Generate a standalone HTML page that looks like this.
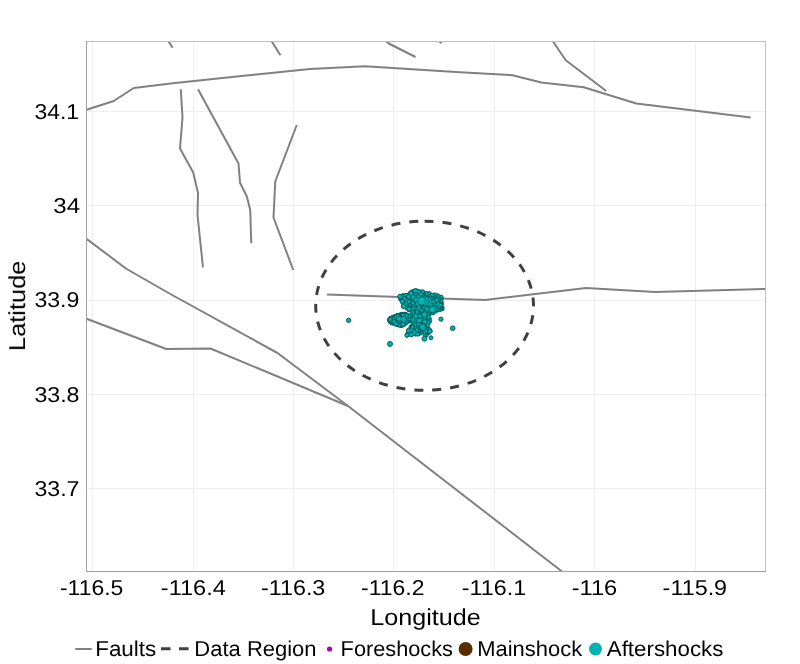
<!DOCTYPE html>
<html><head><meta charset="utf-8"><title>Aftershock map</title>
<style>
html,body{margin:0;padding:0;background:#ffffff;}
body{width:800px;height:664px;overflow:hidden;font-family:"Liberation Sans",sans-serif;}
svg{display:block;}
</style></head><body>
<svg width="800" height="664" viewBox="0 0 800 664">
<rect x="0" y="0" width="800" height="664" fill="#ffffff"/>
<g stroke="#efefef" stroke-width="1" shape-rendering="crispEdges">
<line x1="92.5" y1="41.5" x2="92.5" y2="571.5"/>
<line x1="193.5" y1="41.5" x2="193.5" y2="571.5"/>
<line x1="293.5" y1="41.5" x2="293.5" y2="571.5"/>
<line x1="393.5" y1="41.5" x2="393.5" y2="571.5"/>
<line x1="494.5" y1="41.5" x2="494.5" y2="571.5"/>
<line x1="594.5" y1="41.5" x2="594.5" y2="571.5"/>
<line x1="695.5" y1="41.5" x2="695.5" y2="571.5"/>
<line x1="86.5" y1="111.5" x2="765.5" y2="111.5"/>
<line x1="86.5" y1="205.5" x2="765.5" y2="205.5"/>
<line x1="86.5" y1="300.5" x2="765.5" y2="300.5"/>
<line x1="86.5" y1="394.5" x2="765.5" y2="394.5"/>
<line x1="86.5" y1="488.5" x2="765.5" y2="488.5"/>
</g>
<clipPath id="pc"><rect x="86.5" y="41.5" width="679.0" height="530.0"/></clipPath>
<g clip-path="url(#pc)">
<g fill="none" stroke="#808080" stroke-width="2" stroke-linejoin="round" stroke-linecap="butt">
<polyline points="86.50,109.80 113.75,101.00 133.75,88.00 175.00,83.00 310.00,69.00 365.00,66.25 460.00,72.25 512.50,75.25 541.25,82.50 583.75,87.25 636.25,103.50 750.75,117.50"/>
<polyline points="168.60,41.50 172.60,47.70"/>
<polyline points="271.75,41.50 280.50,55.25"/>
<polyline points="386.25,41.50 388.75,43.50 415.50,57.00"/>
<polyline points="439.50,41.50 441.50,43.25"/>
<polyline points="553.00,41.50 565.75,60.25 606.25,91.00"/>
<polyline points="180.75,89.25 182.50,117.25 180.00,148.50 193.25,172.50 198.00,193.00 197.50,215.00 203.00,267.50"/>
<polyline points="198.00,89.25 238.50,163.60 240.00,182.70 246.75,196.25 250.25,210.00 251.25,243.25"/>
<polyline points="296.75,125.00 275.25,181.50 273.50,217.50 293.25,270.00"/>
<polyline points="86.50,238.75 126.25,268.75 171.25,294.50 277.50,353.00 348.00,406.00 562.00,571.50"/>
<polyline points="86.50,318.75 166.25,349.00 210.50,348.50 348.00,406.00"/>
<polyline points="327.00,294.50 484.90,300.10 586.00,288.00 655.00,292.00 765.50,289.00"/>
</g>
<path d="M424.6,221.2 A108.9,84.55 0 0 1 424.6,390.3 A108.9,84.55 0 0 1 424.6,221.2" fill="none" stroke="#404040" stroke-width="3" stroke-dasharray="9 9"/>
<g fill="#00b2b2" stroke="#006060" stroke-width="1">
<circle cx="409.82" cy="317.52" r="1.68"/>
<circle cx="419.75" cy="329.13" r="1.60"/>
<circle cx="435.11" cy="299.79" r="1.60"/>
<circle cx="428.80" cy="300.65" r="2.60"/>
<circle cx="442.51" cy="307.47" r="1.69"/>
<circle cx="427.88" cy="300.89" r="2.00"/>
<circle cx="399.11" cy="324.20" r="1.80"/>
<circle cx="389.97" cy="320.88" r="1.74"/>
<circle cx="403.64" cy="303.67" r="2.00"/>
<circle cx="441.08" cy="302.94" r="2.00"/>
<circle cx="430.32" cy="330.89" r="1.57"/>
<circle cx="405.61" cy="315.58" r="2.20"/>
<circle cx="421.55" cy="297.44" r="2.00"/>
<circle cx="393.14" cy="322.26" r="1.90"/>
<circle cx="414.42" cy="331.51" r="1.80"/>
<circle cx="400.05" cy="299.53" r="1.32"/>
<circle cx="421.39" cy="317.90" r="2.60"/>
<circle cx="391.06" cy="322.73" r="1.53"/>
<circle cx="403.62" cy="314.78" r="1.60"/>
<circle cx="424.90" cy="295.74" r="2.60"/>
<circle cx="403.19" cy="319.27" r="2.00"/>
<circle cx="401.83" cy="322.69" r="1.60"/>
<circle cx="420.54" cy="314.03" r="1.44"/>
<circle cx="400.72" cy="323.25" r="2.00"/>
<circle cx="415.44" cy="313.94" r="1.24"/>
<circle cx="389.32" cy="319.38" r="1.49"/>
<circle cx="417.61" cy="314.23" r="1.32"/>
<circle cx="413.90" cy="322.99" r="2.00"/>
<circle cx="419.90" cy="316.61" r="2.00"/>
<circle cx="421.60" cy="296.07" r="2.00"/>
<circle cx="406.25" cy="314.20" r="1.66"/>
<circle cx="428.28" cy="311.41" r="2.20"/>
<circle cx="404.10" cy="314.52" r="1.60"/>
<circle cx="412.57" cy="321.32" r="1.93"/>
<circle cx="420.42" cy="320.69" r="1.60"/>
<circle cx="407.43" cy="335.20" r="1.60"/>
<circle cx="405.66" cy="316.74" r="1.80"/>
<circle cx="420.78" cy="313.59" r="1.86"/>
<circle cx="433.10" cy="311.12" r="1.60"/>
<circle cx="423.52" cy="311.91" r="2.00"/>
<circle cx="397.94" cy="319.65" r="2.00"/>
<circle cx="425.46" cy="306.84" r="2.00"/>
<circle cx="410.72" cy="305.51" r="2.00"/>
<circle cx="438.71" cy="302.44" r="1.60"/>
<circle cx="430.14" cy="307.92" r="1.80"/>
<circle cx="429.22" cy="293.66" r="1.73"/>
<circle cx="411.06" cy="294.35" r="2.00"/>
<circle cx="429.94" cy="313.49" r="1.50"/>
<circle cx="402.54" cy="295.35" r="1.32"/>
<circle cx="410.87" cy="326.69" r="1.52"/>
<circle cx="426.83" cy="321.47" r="2.40"/>
<circle cx="411.92" cy="310.69" r="1.63"/>
<circle cx="398.66" cy="320.31" r="2.00"/>
<circle cx="403.73" cy="295.58" r="1.78"/>
<circle cx="420.12" cy="329.71" r="2.20"/>
<circle cx="390.14" cy="319.76" r="2.20"/>
<circle cx="396.08" cy="321.76" r="1.90"/>
<circle cx="418.46" cy="317.22" r="1.80"/>
<circle cx="423.45" cy="304.14" r="1.60"/>
<circle cx="405.03" cy="306.82" r="1.79"/>
<circle cx="416.10" cy="301.53" r="1.60"/>
<circle cx="397.84" cy="322.66" r="1.60"/>
<circle cx="424.56" cy="297.33" r="1.60"/>
<circle cx="401.59" cy="321.21" r="1.80"/>
<circle cx="424.26" cy="296.44" r="1.60"/>
<circle cx="406.50" cy="301.86" r="2.60"/>
<circle cx="427.96" cy="332.59" r="2.20"/>
<circle cx="410.89" cy="327.65" r="2.05"/>
<circle cx="424.34" cy="303.08" r="1.60"/>
<circle cx="421.78" cy="305.65" r="1.80"/>
<circle cx="427.53" cy="319.06" r="1.60"/>
<circle cx="418.46" cy="301.30" r="2.60"/>
<circle cx="392.91" cy="316.69" r="1.31"/>
<circle cx="406.20" cy="301.02" r="2.20"/>
<circle cx="417.94" cy="329.54" r="2.20"/>
<circle cx="411.93" cy="326.72" r="1.60"/>
<circle cx="409.64" cy="320.23" r="1.75"/>
<circle cx="419.61" cy="316.18" r="1.60"/>
<circle cx="403.73" cy="316.37" r="2.40"/>
<circle cx="437.42" cy="295.72" r="1.60"/>
<circle cx="412.19" cy="295.30" r="2.40"/>
<circle cx="412.30" cy="316.94" r="2.44"/>
<circle cx="426.14" cy="306.17" r="1.80"/>
<circle cx="435.60" cy="305.20" r="2.00"/>
<circle cx="399.92" cy="318.46" r="2.20"/>
<circle cx="397.08" cy="320.45" r="1.40"/>
<circle cx="418.54" cy="327.93" r="1.60"/>
<circle cx="424.53" cy="325.52" r="1.60"/>
<circle cx="439.20" cy="302.31" r="2.00"/>
<circle cx="423.23" cy="295.84" r="2.00"/>
<circle cx="427.48" cy="300.75" r="2.00"/>
<circle cx="418.69" cy="305.65" r="2.20"/>
<circle cx="409.44" cy="320.95" r="1.40"/>
<circle cx="414.23" cy="299.13" r="1.80"/>
<circle cx="426.74" cy="297.79" r="2.00"/>
<circle cx="427.58" cy="300.64" r="2.40"/>
<circle cx="415.36" cy="319.56" r="2.40"/>
<circle cx="426.11" cy="313.08" r="1.60"/>
<circle cx="414.01" cy="329.06" r="2.00"/>
<circle cx="428.37" cy="329.06" r="2.00"/>
<circle cx="408.45" cy="316.97" r="1.60"/>
<circle cx="414.31" cy="300.92" r="1.80"/>
<circle cx="426.17" cy="321.74" r="2.00"/>
<circle cx="403.18" cy="314.62" r="2.00"/>
<circle cx="410.43" cy="294.74" r="2.55"/>
<circle cx="400.88" cy="317.02" r="1.80"/>
<circle cx="397.56" cy="315.52" r="1.60"/>
<circle cx="433.02" cy="313.32" r="1.42"/>
<circle cx="422.69" cy="323.53" r="2.60"/>
<circle cx="411.16" cy="310.54" r="1.55"/>
<circle cx="419.66" cy="319.29" r="1.60"/>
<circle cx="406.88" cy="307.28" r="1.80"/>
<circle cx="400.26" cy="318.05" r="2.00"/>
<circle cx="397.69" cy="319.59" r="1.40"/>
<circle cx="438.03" cy="307.62" r="2.00"/>
<circle cx="391.02" cy="318.27" r="1.90"/>
<circle cx="419.16" cy="294.80" r="2.20"/>
<circle cx="401.86" cy="314.57" r="1.86"/>
<circle cx="401.42" cy="315.63" r="1.60"/>
<circle cx="421.61" cy="325.10" r="2.00"/>
<circle cx="400.00" cy="316.61" r="1.80"/>
<circle cx="408.30" cy="316.67" r="1.60"/>
<circle cx="404.09" cy="321.94" r="1.60"/>
<circle cx="425.59" cy="320.87" r="1.80"/>
<circle cx="399.62" cy="316.47" r="2.00"/>
<circle cx="410.37" cy="292.49" r="1.52"/>
<circle cx="400.21" cy="321.57" r="2.40"/>
<circle cx="420.19" cy="291.72" r="1.60"/>
<circle cx="426.10" cy="313.18" r="1.40"/>
<circle cx="397.49" cy="315.38" r="1.58"/>
<circle cx="394.10" cy="320.19" r="1.80"/>
<circle cx="391.12" cy="320.32" r="1.40"/>
<circle cx="432.62" cy="311.80" r="2.60"/>
<circle cx="423.05" cy="326.45" r="2.20"/>
<circle cx="411.17" cy="309.03" r="2.20"/>
<circle cx="398.15" cy="317.33" r="1.40"/>
<circle cx="401.45" cy="295.49" r="1.24"/>
<circle cx="398.88" cy="324.85" r="1.96"/>
<circle cx="419.77" cy="309.68" r="1.60"/>
<circle cx="409.06" cy="321.54" r="1.25"/>
<circle cx="401.36" cy="298.31" r="1.60"/>
<circle cx="406.64" cy="314.56" r="1.33"/>
<circle cx="403.08" cy="321.05" r="1.60"/>
<circle cx="397.25" cy="322.70" r="1.60"/>
<circle cx="402.45" cy="315.64" r="2.00"/>
<circle cx="409.88" cy="320.29" r="1.53"/>
<circle cx="399.09" cy="324.53" r="1.73"/>
<circle cx="413.96" cy="295.22" r="2.40"/>
<circle cx="422.66" cy="313.29" r="1.47"/>
<circle cx="405.79" cy="316.78" r="2.00"/>
<circle cx="397.06" cy="319.52" r="2.20"/>
<circle cx="425.72" cy="318.89" r="2.00"/>
<circle cx="413.78" cy="299.25" r="2.20"/>
<circle cx="419.62" cy="302.15" r="2.20"/>
<circle cx="419.11" cy="296.05" r="2.60"/>
<circle cx="422.58" cy="309.33" r="1.80"/>
<circle cx="394.75" cy="316.18" r="1.52"/>
<circle cx="417.86" cy="326.85" r="2.20"/>
<circle cx="393.82" cy="320.59" r="1.40"/>
<circle cx="400.91" cy="321.96" r="1.60"/>
<circle cx="426.70" cy="295.17" r="2.00"/>
<circle cx="397.97" cy="321.85" r="2.40"/>
<circle cx="398.72" cy="318.19" r="2.00"/>
<circle cx="422.53" cy="305.98" r="2.20"/>
<circle cx="422.35" cy="300.11" r="1.60"/>
<circle cx="403.21" cy="320.33" r="1.60"/>
<circle cx="416.23" cy="306.12" r="1.60"/>
<circle cx="416.66" cy="315.50" r="2.26"/>
<circle cx="407.81" cy="334.37" r="2.00"/>
<circle cx="428.25" cy="317.93" r="2.00"/>
<circle cx="393.54" cy="321.81" r="1.40"/>
<circle cx="419.74" cy="332.05" r="2.60"/>
<circle cx="392.56" cy="317.41" r="1.25"/>
<circle cx="408.27" cy="295.43" r="2.20"/>
<circle cx="408.56" cy="298.98" r="2.40"/>
<circle cx="414.83" cy="311.83" r="1.60"/>
<circle cx="397.57" cy="319.73" r="1.60"/>
<circle cx="424.01" cy="324.51" r="1.60"/>
<circle cx="434.02" cy="303.22" r="2.20"/>
<circle cx="419.40" cy="317.94" r="2.40"/>
<circle cx="404.58" cy="306.14" r="1.54"/>
<circle cx="423.70" cy="311.23" r="1.60"/>
<circle cx="428.08" cy="311.96" r="2.00"/>
<circle cx="401.29" cy="319.79" r="2.20"/>
<circle cx="434.61" cy="299.81" r="2.20"/>
<circle cx="402.16" cy="318.76" r="1.90"/>
<circle cx="399.89" cy="318.00" r="1.80"/>
<circle cx="422.32" cy="322.73" r="1.60"/>
<circle cx="416.45" cy="307.45" r="2.20"/>
<circle cx="402.74" cy="325.41" r="1.40"/>
<circle cx="420.25" cy="321.29" r="1.60"/>
<circle cx="418.47" cy="301.78" r="1.80"/>
<circle cx="408.38" cy="315.34" r="1.40"/>
<circle cx="420.58" cy="311.79" r="2.00"/>
<circle cx="437.37" cy="305.26" r="2.20"/>
<circle cx="404.28" cy="315.68" r="2.00"/>
<circle cx="391.08" cy="318.00" r="1.48"/>
<circle cx="416.39" cy="322.73" r="2.00"/>
<circle cx="395.84" cy="320.09" r="1.40"/>
<circle cx="408.98" cy="317.77" r="1.80"/>
<circle cx="419.16" cy="327.88" r="1.60"/>
<circle cx="417.23" cy="332.48" r="1.60"/>
<circle cx="390.60" cy="319.93" r="1.90"/>
<circle cx="431.02" cy="300.56" r="1.80"/>
<circle cx="428.79" cy="307.29" r="2.60"/>
<circle cx="408.67" cy="319.99" r="1.90"/>
<circle cx="392.65" cy="321.56" r="1.60"/>
<circle cx="415.25" cy="316.73" r="2.20"/>
<circle cx="402.97" cy="318.59" r="1.80"/>
<circle cx="417.83" cy="299.23" r="2.40"/>
<circle cx="427.31" cy="324.44" r="2.00"/>
<circle cx="415.46" cy="307.21" r="2.20"/>
<circle cx="410.46" cy="306.53" r="2.00"/>
<circle cx="397.42" cy="323.88" r="1.80"/>
<circle cx="396.74" cy="322.79" r="2.60"/>
<circle cx="399.91" cy="318.74" r="2.20"/>
<circle cx="407.74" cy="300.59" r="2.00"/>
<circle cx="409.09" cy="296.96" r="2.00"/>
<circle cx="439.65" cy="305.96" r="1.80"/>
<circle cx="415.89" cy="301.91" r="2.00"/>
<circle cx="433.94" cy="307.91" r="2.60"/>
<circle cx="399.85" cy="320.31" r="1.80"/>
<circle cx="400.98" cy="298.97" r="2.00"/>
<circle cx="404.48" cy="321.00" r="1.60"/>
<circle cx="402.09" cy="318.37" r="1.80"/>
<circle cx="402.96" cy="318.60" r="1.40"/>
<circle cx="408.90" cy="303.61" r="2.00"/>
<circle cx="406.14" cy="295.76" r="2.00"/>
<circle cx="404.73" cy="317.57" r="2.00"/>
<circle cx="402.34" cy="319.67" r="2.40"/>
<circle cx="439.77" cy="304.26" r="2.40"/>
<circle cx="426.43" cy="329.68" r="1.80"/>
<circle cx="409.38" cy="319.24" r="2.00"/>
<circle cx="396.38" cy="316.12" r="1.65"/>
<circle cx="436.75" cy="297.65" r="2.00"/>
<circle cx="424.89" cy="307.06" r="2.60"/>
<circle cx="429.44" cy="293.59" r="1.65"/>
<circle cx="397.96" cy="325.00" r="1.57"/>
<circle cx="428.45" cy="303.95" r="1.80"/>
<circle cx="407.05" cy="317.62" r="1.80"/>
<circle cx="431.37" cy="311.80" r="1.60"/>
<circle cx="428.31" cy="306.17" r="2.00"/>
<circle cx="403.37" cy="300.97" r="2.40"/>
<circle cx="395.07" cy="322.37" r="1.40"/>
<circle cx="429.47" cy="330.12" r="2.00"/>
<circle cx="397.88" cy="325.03" r="1.52"/>
<circle cx="405.15" cy="323.00" r="2.25"/>
<circle cx="420.70" cy="308.04" r="2.00"/>
<circle cx="398.44" cy="320.41" r="2.00"/>
<circle cx="399.26" cy="316.04" r="1.90"/>
<circle cx="421.39" cy="301.71" r="2.60"/>
<circle cx="429.39" cy="304.83" r="2.00"/>
<circle cx="401.07" cy="296.97" r="1.60"/>
<circle cx="441.62" cy="302.63" r="1.43"/>
<circle cx="401.39" cy="322.00" r="2.20"/>
<circle cx="398.90" cy="314.91" r="1.51"/>
<circle cx="397.63" cy="325.21" r="1.28"/>
<circle cx="396.28" cy="315.70" r="1.52"/>
<circle cx="405.00" cy="318.79" r="1.90"/>
<circle cx="411.43" cy="310.57" r="1.80"/>
<circle cx="424.70" cy="308.92" r="1.60"/>
<circle cx="422.55" cy="298.32" r="2.00"/>
<circle cx="421.82" cy="298.29" r="2.20"/>
<circle cx="398.82" cy="319.71" r="2.00"/>
<circle cx="428.22" cy="302.74" r="1.60"/>
<circle cx="391.98" cy="317.35" r="1.58"/>
<circle cx="402.74" cy="318.31" r="2.00"/>
<circle cx="393.38" cy="320.30" r="1.40"/>
<circle cx="409.52" cy="318.36" r="1.38"/>
<circle cx="408.28" cy="316.08" r="1.80"/>
<circle cx="440.01" cy="305.07" r="1.80"/>
<circle cx="415.62" cy="308.94" r="1.60"/>
<circle cx="415.23" cy="322.52" r="2.00"/>
<circle cx="394.20" cy="321.45" r="1.90"/>
<circle cx="403.10" cy="325.38" r="1.27"/>
<circle cx="420.92" cy="326.04" r="2.00"/>
<circle cx="427.06" cy="294.34" r="2.00"/>
<circle cx="414.08" cy="300.66" r="1.80"/>
<circle cx="414.15" cy="305.42" r="2.20"/>
<circle cx="412.32" cy="308.78" r="1.80"/>
<circle cx="433.37" cy="301.40" r="2.00"/>
<circle cx="398.05" cy="317.93" r="2.60"/>
<circle cx="419.41" cy="303.19" r="2.20"/>
<circle cx="419.61" cy="297.65" r="2.20"/>
<circle cx="417.11" cy="322.52" r="2.00"/>
<circle cx="402.42" cy="314.61" r="1.80"/>
<circle cx="405.19" cy="323.20" r="1.60"/>
<circle cx="401.75" cy="316.19" r="2.40"/>
<circle cx="392.73" cy="318.02" r="2.20"/>
<circle cx="431.17" cy="299.73" r="2.00"/>
<circle cx="413.52" cy="317.18" r="1.80"/>
<circle cx="427.75" cy="295.19" r="2.00"/>
<circle cx="428.65" cy="330.98" r="1.60"/>
<circle cx="397.57" cy="320.16" r="2.20"/>
<circle cx="438.92" cy="299.00" r="1.60"/>
<circle cx="398.66" cy="315.90" r="1.60"/>
<circle cx="412.17" cy="327.55" r="2.00"/>
<circle cx="415.84" cy="318.51" r="2.00"/>
<circle cx="396.61" cy="318.52" r="1.60"/>
<circle cx="393.83" cy="319.72" r="2.00"/>
<circle cx="432.99" cy="299.47" r="2.20"/>
<circle cx="401.24" cy="317.65" r="2.00"/>
<circle cx="397.27" cy="324.13" r="1.62"/>
<circle cx="440.18" cy="309.77" r="1.60"/>
<circle cx="407.68" cy="318.28" r="1.90"/>
<circle cx="400.27" cy="314.91" r="1.80"/>
<circle cx="403.55" cy="295.16" r="1.33"/>
<circle cx="399.44" cy="320.51" r="1.80"/>
<circle cx="425.37" cy="322.60" r="2.60"/>
<circle cx="392.88" cy="318.26" r="2.16"/>
<circle cx="417.37" cy="317.13" r="1.80"/>
<circle cx="406.76" cy="299.63" r="1.80"/>
<circle cx="391.17" cy="319.03" r="1.40"/>
<circle cx="414.61" cy="297.94" r="2.00"/>
<circle cx="412.90" cy="310.13" r="2.40"/>
<circle cx="429.22" cy="307.82" r="2.00"/>
<circle cx="422.15" cy="316.38" r="2.00"/>
<circle cx="426.48" cy="324.84" r="2.60"/>
<circle cx="419.46" cy="317.91" r="1.80"/>
<circle cx="418.79" cy="333.70" r="1.89"/>
<circle cx="428.64" cy="330.13" r="1.60"/>
<circle cx="403.33" cy="316.87" r="1.60"/>
<circle cx="403.94" cy="316.49" r="1.60"/>
<circle cx="435.46" cy="308.54" r="2.20"/>
<circle cx="428.23" cy="298.68" r="1.80"/>
<circle cx="427.83" cy="302.30" r="2.00"/>
<circle cx="418.12" cy="292.99" r="1.60"/>
<circle cx="401.57" cy="319.94" r="2.20"/>
<circle cx="425.98" cy="327.40" r="1.80"/>
<circle cx="393.93" cy="317.72" r="1.80"/>
<circle cx="413.54" cy="328.59" r="1.80"/>
<circle cx="428.22" cy="308.49" r="2.00"/>
<circle cx="405.84" cy="298.24" r="2.20"/>
<circle cx="429.53" cy="302.51" r="1.80"/>
<circle cx="437.00" cy="299.69" r="1.80"/>
<circle cx="410.68" cy="293.56" r="1.80"/>
<circle cx="416.88" cy="307.03" r="1.60"/>
<circle cx="418.16" cy="320.69" r="2.20"/>
<circle cx="391.98" cy="319.74" r="1.90"/>
<circle cx="436.37" cy="302.58" r="1.60"/>
<circle cx="394.42" cy="320.55" r="1.40"/>
<circle cx="424.06" cy="292.75" r="1.68"/>
<circle cx="416.31" cy="300.13" r="2.00"/>
<circle cx="408.42" cy="302.23" r="2.60"/>
<circle cx="432.39" cy="312.84" r="1.80"/>
<circle cx="437.10" cy="302.65" r="2.00"/>
<circle cx="396.71" cy="321.40" r="2.00"/>
<circle cx="422.09" cy="313.21" r="2.18"/>
<circle cx="400.80" cy="324.45" r="1.60"/>
<circle cx="409.15" cy="310.24" r="1.66"/>
<circle cx="415.37" cy="307.69" r="2.60"/>
<circle cx="415.71" cy="330.87" r="2.00"/>
<circle cx="421.59" cy="308.54" r="1.80"/>
<circle cx="389.63" cy="319.56" r="1.78"/>
<circle cx="412.48" cy="299.27" r="2.60"/>
<circle cx="401.86" cy="323.14" r="2.20"/>
<circle cx="396.62" cy="317.30" r="1.80"/>
<circle cx="432.90" cy="297.96" r="1.80"/>
<circle cx="440.12" cy="298.98" r="1.80"/>
<circle cx="396.47" cy="318.36" r="2.20"/>
<circle cx="412.77" cy="291.61" r="1.59"/>
<circle cx="399.36" cy="319.75" r="2.00"/>
<circle cx="422.73" cy="320.54" r="2.00"/>
<circle cx="401.12" cy="325.87" r="1.40"/>
<circle cx="418.76" cy="321.19" r="2.00"/>
<circle cx="437.10" cy="310.78" r="1.50"/>
<circle cx="420.82" cy="316.24" r="2.60"/>
<circle cx="422.41" cy="311.06" r="2.60"/>
<circle cx="414.27" cy="331.13" r="2.20"/>
<circle cx="392.13" cy="318.70" r="2.00"/>
<circle cx="429.88" cy="312.59" r="1.80"/>
<circle cx="411.69" cy="326.62" r="1.60"/>
<circle cx="417.68" cy="290.84" r="1.60"/>
<circle cx="411.08" cy="333.05" r="1.60"/>
<circle cx="422.07" cy="324.88" r="1.60"/>
<circle cx="428.38" cy="309.84" r="2.20"/>
<circle cx="408.67" cy="320.83" r="1.44"/>
<circle cx="422.73" cy="316.70" r="2.00"/>
<circle cx="416.02" cy="290.69" r="1.79"/>
<circle cx="421.96" cy="292.56" r="2.17"/>
<circle cx="402.99" cy="321.03" r="1.80"/>
<circle cx="390.36" cy="318.46" r="1.86"/>
<circle cx="431.44" cy="302.70" r="2.00"/>
<circle cx="433.48" cy="309.70" r="2.00"/>
<circle cx="405.12" cy="302.51" r="1.80"/>
<circle cx="404.69" cy="319.87" r="2.20"/>
<circle cx="395.31" cy="319.87" r="1.40"/>
<circle cx="429.61" cy="301.88" r="2.60"/>
<circle cx="415.19" cy="328.45" r="2.60"/>
<circle cx="420.91" cy="318.59" r="2.00"/>
<circle cx="415.94" cy="317.49" r="2.00"/>
<circle cx="418.34" cy="321.02" r="2.60"/>
<circle cx="407.08" cy="303.00" r="2.40"/>
<circle cx="411.73" cy="319.13" r="1.49"/>
<circle cx="420.21" cy="328.64" r="1.80"/>
<circle cx="397.67" cy="314.97" r="1.24"/>
<circle cx="415.40" cy="299.30" r="2.20"/>
<circle cx="427.79" cy="324.36" r="1.61"/>
<circle cx="417.75" cy="297.79" r="2.40"/>
<circle cx="396.52" cy="316.80" r="2.00"/>
<circle cx="432.84" cy="300.87" r="1.60"/>
<circle cx="429.74" cy="318.91" r="1.60"/>
<circle cx="433.26" cy="312.59" r="1.61"/>
<circle cx="408.22" cy="319.07" r="2.20"/>
<circle cx="393.91" cy="317.42" r="1.77"/>
<circle cx="406.98" cy="316.43" r="1.60"/>
<circle cx="408.77" cy="319.91" r="1.60"/>
<circle cx="416.81" cy="307.69" r="1.60"/>
<circle cx="435.46" cy="305.29" r="2.60"/>
<circle cx="415.55" cy="334.93" r="1.27"/>
<circle cx="394.08" cy="316.52" r="1.60"/>
<circle cx="419.70" cy="323.53" r="1.60"/>
<circle cx="413.66" cy="322.13" r="2.55"/>
<circle cx="428.87" cy="298.54" r="1.60"/>
<circle cx="409.37" cy="307.69" r="2.00"/>
<circle cx="420.71" cy="302.63" r="2.20"/>
<circle cx="440.83" cy="302.12" r="2.20"/>
<circle cx="432.47" cy="302.84" r="1.60"/>
<circle cx="416.96" cy="316.74" r="2.20"/>
<circle cx="404.23" cy="323.18" r="1.80"/>
<circle cx="409.36" cy="304.91" r="1.90"/>
<circle cx="428.66" cy="316.92" r="2.22"/>
<circle cx="412.54" cy="309.57" r="2.90"/>
<circle cx="433.26" cy="301.77" r="2.30"/>
<circle cx="427.75" cy="300.15" r="2.50"/>
<circle cx="400.34" cy="321.15" r="1.90"/>
<circle cx="430.71" cy="304.84" r="2.70"/>
<circle cx="418.12" cy="323.74" r="2.30"/>
<circle cx="421.51" cy="319.58" r="2.30"/>
<circle cx="407.72" cy="321.62" r="1.98"/>
<circle cx="439.47" cy="306.54" r="1.90"/>
<circle cx="415.68" cy="315.94" r="2.50"/>
<circle cx="428.98" cy="332.44" r="1.90"/>
<circle cx="409.11" cy="333.26" r="2.90"/>
<circle cx="414.20" cy="298.27" r="2.10"/>
<circle cx="436.67" cy="300.13" r="2.10"/>
<circle cx="403.62" cy="323.40" r="2.10"/>
<circle cx="415.06" cy="332.77" r="2.90"/>
<circle cx="417.40" cy="309.55" r="2.70"/>
<circle cx="418.64" cy="291.84" r="2.30"/>
<circle cx="418.47" cy="313.31" r="1.63"/>
<circle cx="404.73" cy="315.45" r="1.90"/>
<circle cx="429.01" cy="321.25" r="2.50"/>
<circle cx="408.78" cy="301.60" r="2.30"/>
<circle cx="433.80" cy="307.87" r="2.50"/>
<circle cx="425.64" cy="312.44" r="2.30"/>
<circle cx="431.05" cy="310.99" r="2.30"/>
<circle cx="401.91" cy="299.14" r="1.90"/>
<circle cx="420.85" cy="333.65" r="1.36"/>
<circle cx="421.55" cy="310.11" r="1.90"/>
<circle cx="408.85" cy="298.11" r="1.90"/>
<circle cx="398.83" cy="325.26" r="1.55"/>
<circle cx="405.91" cy="295.19" r="1.83"/>
<circle cx="441.65" cy="298.03" r="1.53"/>
<circle cx="423.04" cy="291.86" r="1.36"/>
<circle cx="419.52" cy="329.23" r="2.90"/>
<circle cx="397.62" cy="319.93" r="1.90"/>
<circle cx="422.77" cy="314.87" r="1.63"/>
<circle cx="425.59" cy="297.05" r="2.30"/>
<circle cx="403.56" cy="305.94" r="1.76"/>
<circle cx="422.28" cy="305.15" r="1.90"/>
<circle cx="418.90" cy="300.02" r="2.30"/>
<circle cx="437.29" cy="309.34" r="1.90"/>
<circle cx="412.98" cy="319.72" r="2.62"/>
<circle cx="417.33" cy="303.76" r="2.30"/>
<circle cx="416.93" cy="320.26" r="2.30"/>
<circle cx="427.36" cy="307.66" r="2.10"/>
<circle cx="408.67" cy="309.88" r="1.63"/>
<circle cx="421.62" cy="295.38" r="2.50"/>
<circle cx="412.26" cy="294.53" r="2.30"/>
<circle cx="404.68" cy="319.43" r="2.30"/>
<circle cx="398.42" cy="316.28" r="2.10"/>
<circle cx="415.58" cy="326.45" r="2.30"/>
<circle cx="427.70" cy="325.06" r="1.99"/>
<circle cx="402.94" cy="302.13" r="1.90"/>
<circle cx="422.42" cy="300.82" r="2.30"/>
<circle cx="422.87" cy="325.83" r="2.70"/>
<circle cx="434.12" cy="295.13" r="2.08"/>
<circle cx="406.69" cy="308.20" r="1.67"/>
<circle cx="413.54" cy="305.45" r="2.50"/>
<circle cx="440.64" cy="301.46" r="1.90"/>
<circle cx="429.22" cy="294.66" r="2.30"/>
<circle cx="437.85" cy="295.51" r="1.38"/>
<circle cx="425.31" cy="331.06" r="2.50"/>
<circle cx="429.29" cy="329.17" r="1.69"/>
<circle cx="411.32" cy="329.60" r="2.30"/>
<circle cx="426.97" cy="303.50" r="1.90"/>
<circle cx="442.01" cy="309.09" r="1.87"/>
<circle cx="414.86" cy="291.16" r="2.10"/>
<circle cx="420.04" cy="316.15" r="2.10"/>
<circle cx="400.99" cy="314.63" r="1.78"/>
<circle cx="429.06" cy="313.62" r="1.41"/>
<circle cx="408.44" cy="318.41" r="1.90"/>
<circle cx="434.89" cy="311.50" r="1.96"/>
<circle cx="406.08" cy="303.84" r="1.90"/>
<circle cx="424.34" cy="334.44" r="1.64"/>
<circle cx="408.59" cy="315.32" r="1.44"/>
<circle cx="437.79" cy="303.99" r="1.90"/>
<circle cx="402.69" cy="296.06" r="2.05"/>
<circle cx="411.20" cy="325.99" r="1.43"/>
<circle cx="410.39" cy="292.24" r="1.36"/>
<circle cx="424.87" cy="322.06" r="2.50"/>
<circle cx="430.91" cy="298.08" r="2.30"/>
<circle cx="425.95" cy="293.51" r="1.71"/>
<circle cx="412.32" cy="323.42" r="1.32"/>
<circle cx="411.36" cy="316.65" r="1.57"/>
<circle cx="439.62" cy="310.43" r="1.33"/>
<circle cx="415.77" cy="294.34" r="1.90"/>
<circle cx="405.64" cy="299.42" r="2.30"/>
<circle cx="401.25" cy="326.01" r="1.30"/>
<circle cx="415.15" cy="312.31" r="1.62"/>
<circle cx="399.45" cy="297.29" r="1.31"/>
<circle cx="425.70" cy="315.69" r="1.73"/>
<circle cx="441.73" cy="304.38" r="1.71"/>
<circle cx="406.88" cy="335.71" r="1.31"/>
<circle cx="408.72" cy="293.89" r="1.35"/>
<circle cx="401.56" cy="317.82" r="2.10"/>
<circle cx="413.50" cy="301.57" r="2.10"/>
<circle cx="396.47" cy="324.55" r="1.60"/>
<circle cx="418.43" cy="334.21" r="1.50"/>
<circle cx="411.24" cy="314.23" r="1.34"/>
<circle cx="411.92" cy="335.17" r="1.35"/>
<circle cx="432.90" cy="313.48" r="1.35"/>
<circle cx="424.23" cy="307.57" r="1.90"/>
<circle cx="426.91" cy="334.19" r="1.31"/>
<circle cx="418.21" cy="296.64" r="2.10"/>
<circle cx="412.21" cy="290.91" r="1.31"/>
<circle cx="397.49" cy="320.44" r="3.40"/>
<circle cx="405.25" cy="314.10" r="1.78"/>
<circle cx="399.09" cy="324.92" r="1.95"/>
<circle cx="402.88" cy="322.28" r="2.60"/>
<circle cx="400.11" cy="317.35" r="3.00"/>
<circle cx="393.11" cy="322.12" r="2.60"/>
<circle cx="399.86" cy="323.27" r="2.20"/>
<circle cx="401.82" cy="321.58" r="2.60"/>
<circle cx="391.54" cy="322.69" r="2.02"/>
<circle cx="405.95" cy="318.70" r="2.60"/>
<circle cx="405.49" cy="319.40" r="2.20"/>
<circle cx="403.97" cy="320.75" r="3.40"/>
<circle cx="406.82" cy="320.43" r="2.20"/>
<circle cx="403.03" cy="323.46" r="2.95"/>
<circle cx="394.92" cy="324.26" r="1.47"/>
<circle cx="405.38" cy="318.05" r="2.20"/>
<circle cx="389.60" cy="321.75" r="1.43"/>
<circle cx="409.13" cy="316.17" r="1.65"/>
<circle cx="397.56" cy="316.04" r="2.22"/>
<circle cx="403.14" cy="321.20" r="3.00"/>
<circle cx="405.40" cy="317.87" r="3.40"/>
<circle cx="392.06" cy="321.38" r="3.00"/>
<circle cx="405.09" cy="321.82" r="3.30"/>
<circle cx="401.79" cy="324.87" r="2.26"/>
<circle cx="397.73" cy="322.77" r="3.00"/>
<circle cx="404.06" cy="322.82" r="2.60"/>
<circle cx="399.80" cy="315.08" r="1.91"/>
<circle cx="392.90" cy="323.04" r="2.11"/>
<circle cx="393.77" cy="319.25" r="3.40"/>
<circle cx="402.10" cy="315.82" r="3.00"/>
<circle cx="405.46" cy="315.89" r="2.20"/>
<circle cx="400.44" cy="315.43" r="2.41"/>
<circle cx="395.57" cy="320.92" r="2.20"/>
<circle cx="400.45" cy="319.06" r="3.40"/>
<circle cx="403.72" cy="318.47" r="2.60"/>
<circle cx="397.97" cy="318.32" r="2.60"/>
<circle cx="405.30" cy="314.86" r="2.51"/>
<circle cx="395.68" cy="319.62" r="3.40"/>
<circle cx="403.71" cy="317.93" r="2.20"/>
<circle cx="393.05" cy="320.46" r="3.00"/>
<circle cx="396.66" cy="315.71" r="1.64"/>
<circle cx="401.46" cy="317.40" r="3.40"/>
<circle cx="403.97" cy="315.51" r="3.11"/>
<circle cx="405.16" cy="320.46" r="3.40"/>
<circle cx="402.88" cy="324.30" r="2.31"/>
<circle cx="403.25" cy="315.00" r="2.49"/>
<circle cx="393.99" cy="319.60" r="3.00"/>
<circle cx="401.01" cy="323.88" r="3.34"/>
<circle cx="395.23" cy="318.92" r="2.20"/>
<circle cx="397.24" cy="322.76" r="3.00"/>
<circle cx="401.28" cy="322.01" r="2.20"/>
<circle cx="403.28" cy="320.68" r="2.60"/>
<circle cx="402.01" cy="322.46" r="2.20"/>
<circle cx="405.60" cy="319.68" r="3.00"/>
<circle cx="401.06" cy="320.30" r="3.00"/>
<circle cx="403.77" cy="314.78" r="2.35"/>
<circle cx="398.39" cy="323.20" r="2.60"/>
<circle cx="394.18" cy="322.90" r="2.20"/>
<circle cx="406.31" cy="317.55" r="2.60"/>
<circle cx="402.26" cy="324.47" r="2.48"/>
<circle cx="401.59" cy="317.84" r="3.00"/>
<circle cx="394.22" cy="319.69" r="3.00"/>
<circle cx="407.49" cy="320.43" r="2.60"/>
<circle cx="409.02" cy="319.68" r="2.48"/>
<circle cx="408.72" cy="320.27" r="2.39"/>
<circle cx="390.07" cy="321.40" r="2.01"/>
<circle cx="403.99" cy="319.57" r="2.20"/>
<circle cx="406.50" cy="319.68" r="2.20"/>
<circle cx="395.80" cy="316.75" r="2.37"/>
<circle cx="396.72" cy="319.22" r="2.20"/>
<circle cx="390.57" cy="317.92" r="1.47"/>
<circle cx="389.34" cy="319.55" r="1.49"/>
<circle cx="408.79" cy="316.56" r="2.17"/>
<circle cx="396.28" cy="315.75" r="1.57"/>
<circle cx="401.10" cy="315.68" r="2.82"/>
<circle cx="408.97" cy="320.00" r="2.38"/>
<circle cx="398.87" cy="318.88" r="3.40"/>
<circle cx="406.36" cy="320.78" r="2.60"/>
<circle cx="401.31" cy="322.33" r="2.20"/>
<circle cx="401.71" cy="322.00" r="2.60"/>
<circle cx="405.34" cy="318.61" r="2.60"/>
<circle cx="407.19" cy="317.98" r="2.20"/>
<circle cx="398.38" cy="319.92" r="3.40"/>
<circle cx="393.07" cy="319.85" r="2.20"/>
<circle cx="390.40" cy="321.09" r="2.20"/>
<circle cx="390.60" cy="319.58" r="2.75"/>
<circle cx="397.95" cy="319.37" r="2.60"/>
<circle cx="400.28" cy="321.06" r="2.60"/>
<circle cx="393.21" cy="319.29" r="2.60"/>
<circle cx="409.98" cy="319.46" r="1.52"/>
<circle cx="401.88" cy="324.53" r="2.56"/>
<circle cx="402.77" cy="324.30" r="2.20"/>
<circle cx="394.74" cy="318.50" r="3.40"/>
<circle cx="405.42" cy="319.30" r="2.60"/>
<circle cx="391.98" cy="318.39" r="2.52"/>
<circle cx="392.74" cy="320.07" r="2.60"/>
<circle cx="402.36" cy="318.25" r="3.00"/>
<circle cx="396.98" cy="318.57" r="2.20"/>
<circle cx="404.79" cy="314.78" r="2.51"/>
<circle cx="406.06" cy="315.46" r="2.20"/>
<circle cx="402.01" cy="316.68" r="3.40"/>
<circle cx="395.91" cy="324.30" r="1.69"/>
<circle cx="397.46" cy="316.98" r="2.60"/>
<circle cx="395.64" cy="323.74" r="2.16"/>
<circle cx="402.47" cy="315.56" r="2.20"/>
<circle cx="394.48" cy="318.44" r="2.20"/>
<circle cx="403.11" cy="315.73" r="2.20"/>
<circle cx="399.59" cy="325.56" r="1.42"/>
<circle cx="397.75" cy="317.54" r="3.40"/>
<circle cx="403.42" cy="319.19" r="3.00"/>
<circle cx="427.20" cy="301.25" r="4.70"/>
<circle cx="424.30" cy="301.00" r="4.70"/>
<circle cx="400.00" cy="296.50" r="2.20"/>
<circle cx="404.25" cy="298.50" r="1.95"/>
<circle cx="408.50" cy="296.50" r="1.95"/>
<circle cx="402.25" cy="301.50" r="2.20"/>
<circle cx="403.75" cy="306.25" r="2.45"/>
<circle cx="409.00" cy="309.00" r="2.20"/>
<circle cx="415.50" cy="290.80" r="2.30"/>
<circle cx="422.50" cy="291.80" r="2.10"/>
<circle cx="411.00" cy="293.30" r="2.20"/>
<circle cx="421.00" cy="294.00" r="2.10"/>
<circle cx="427.00" cy="293.60" r="1.95"/>
<circle cx="432.00" cy="295.00" r="1.90"/>
<circle cx="438.25" cy="296.50" r="1.50"/>
<circle cx="413.50" cy="297.50" r="2.70"/>
<circle cx="416.00" cy="299.50" r="2.45"/>
<circle cx="413.00" cy="303.00" r="1.95"/>
<circle cx="410.00" cy="305.00" r="1.45"/>
<circle cx="414.00" cy="308.00" r="1.95"/>
<circle cx="419.00" cy="307.50" r="2.00"/>
<circle cx="417.00" cy="312.00" r="1.70"/>
<circle cx="427.00" cy="309.00" r="2.30"/>
<circle cx="412.50" cy="312.00" r="1.70"/>
<circle cx="441.00" cy="305.00" r="1.70"/>
<circle cx="441.50" cy="301.50" r="1.30"/>
<circle cx="442.80" cy="309.00" r="1.20"/>
<circle cx="441.40" cy="296.70" r="1.60"/>
<circle cx="435.50" cy="294.60" r="1.60"/>
<circle cx="438.40" cy="295.80" r="1.60"/>
<circle cx="442.10" cy="299.30" r="1.20"/>
<circle cx="429.50" cy="293.20" r="1.50"/>
<circle cx="421.75" cy="301.00" r="4.20"/>
<circle cx="432.50" cy="309.60" r="3.30"/>
<circle cx="424.50" cy="314.60" r="2.80"/>
<circle cx="419.50" cy="320.50" r="2.60"/>
<circle cx="422.90" cy="327.40" r="3.90"/>
<circle cx="422.50" cy="327.00" r="3.20"/>
<circle cx="415.50" cy="325.00" r="1.70"/>
<circle cx="417.00" cy="329.75" r="1.95"/>
<circle cx="428.50" cy="322.00" r="1.70"/>
<circle cx="430.00" cy="331.25" r="2.20"/>
<circle cx="408.50" cy="330.50" r="2.20"/>
<circle cx="407.00" cy="335.25" r="2.10"/>
<circle cx="411.50" cy="334.50" r="2.10"/>
<circle cx="417.50" cy="334.00" r="2.10"/>
<circle cx="412.50" cy="327.00" r="1.70"/>
<circle cx="427.00" cy="335.50" r="1.30"/>
<circle cx="424.50" cy="338.75" r="2.45"/>
<circle cx="431.00" cy="337.75" r="1.95"/>
<circle cx="399.00" cy="318.60" r="2.70"/>
<circle cx="390.20" cy="319.50" r="2.00"/>
<circle cx="394.00" cy="321.50" r="1.90"/>
<circle cx="348.60" cy="320.30" r="2.15"/>
<circle cx="390.00" cy="343.95" r="2.50"/>
<circle cx="440.95" cy="319.15" r="2.10"/>
<circle cx="452.70" cy="328.20" r="2.30"/>
</g>
</g>
<g shape-rendering="crispEdges" fill="none">
<line x1="86.5" y1="41.5" x2="765.5" y2="41.5" stroke="#bfbfbf"/>
<line x1="765.5" y1="41.5" x2="765.5" y2="572.0" stroke="#bfbfbf"/>
<line x1="86.5" y1="41.0" x2="86.5" y2="572.0" stroke="#a0a0a0"/>
<line x1="86.5" y1="571.5" x2="766.0" y2="571.5" stroke="#a0a0a0"/>
</g>
<g font-family="&quot;Liberation Sans&quot;, sans-serif" fill="#000000" text-rendering="geometricPrecision" style="opacity:0.999">
<text x="59.95" y="595" font-size="21.5" textLength="63.47" lengthAdjust="spacingAndGlyphs">-116.5</text>
<text x="160.87" y="595" font-size="21.5" textLength="64.99" lengthAdjust="spacingAndGlyphs">-116.4</text>
<text x="261.00" y="595" font-size="21.5" textLength="64.34" lengthAdjust="spacingAndGlyphs">-116.3</text>
<text x="361.05" y="595" font-size="21.5" textLength="63.38" lengthAdjust="spacingAndGlyphs">-116.2</text>
<text x="461.68" y="595" font-size="21.5" textLength="64.45" lengthAdjust="spacingAndGlyphs">-116.1</text>
<text x="571.69" y="595" font-size="21.5" textLength="45.55" lengthAdjust="spacingAndGlyphs">-116</text>
<text x="662.63" y="595" font-size="21.5" textLength="64.49" lengthAdjust="spacingAndGlyphs">-115.9</text>
<text x="34.45" y="119" font-size="21.5" textLength="44.68" lengthAdjust="spacingAndGlyphs">34.1</text>
<text x="53.34" y="213" font-size="21.5" textLength="26.75" lengthAdjust="spacingAndGlyphs">34</text>
<text x="34.40" y="307.2" font-size="21.5" textLength="44.97" lengthAdjust="spacingAndGlyphs">33.9</text>
<text x="34.42" y="401.8" font-size="21.5" textLength="45.12" lengthAdjust="spacingAndGlyphs">33.8</text>
<text x="34.45" y="496" font-size="21.5" textLength="45.05" lengthAdjust="spacingAndGlyphs">33.7</text>
<text x="370.23" y="625" font-size="23.0" textLength="110.52" lengthAdjust="spacingAndGlyphs">Longitude</text>
<text transform="translate(25.0,351.11) rotate(-90)" font-size="23.0" textLength="90.43" lengthAdjust="spacingAndGlyphs">Latitude</text>
<text x="95.18" y="656" font-size="21.5" textLength="61.15" lengthAdjust="spacingAndGlyphs">Faults</text>
<text x="194.38" y="656" font-size="21.5" textLength="122.18" lengthAdjust="spacingAndGlyphs">Data Region</text>
<text x="340.63" y="656" font-size="21.5" textLength="112.36" lengthAdjust="spacingAndGlyphs">Foreshocks</text>
<text x="477.24" y="656" font-size="21.5" textLength="104.89" lengthAdjust="spacingAndGlyphs">Mainshock</text>
<text x="606.77" y="656" font-size="21.5" textLength="116.60" lengthAdjust="spacingAndGlyphs">Aftershocks</text>
</g>
<line x1="75.3" y1="649" x2="91.7" y2="649" stroke="#808080" stroke-width="2"/>
<path d="M161,648.8H170.5M179,648.8H188.6" stroke="#404040" stroke-width="3" fill="none"/>
<circle cx="329.55" cy="649" r="2.6" fill="#b200b2"/>
<circle cx="465.6" cy="648.95" r="7" fill="#582d00"/>
<circle cx="595.5" cy="649" r="6.45" fill="#00b2b2"/>
</svg>
</body></html>
